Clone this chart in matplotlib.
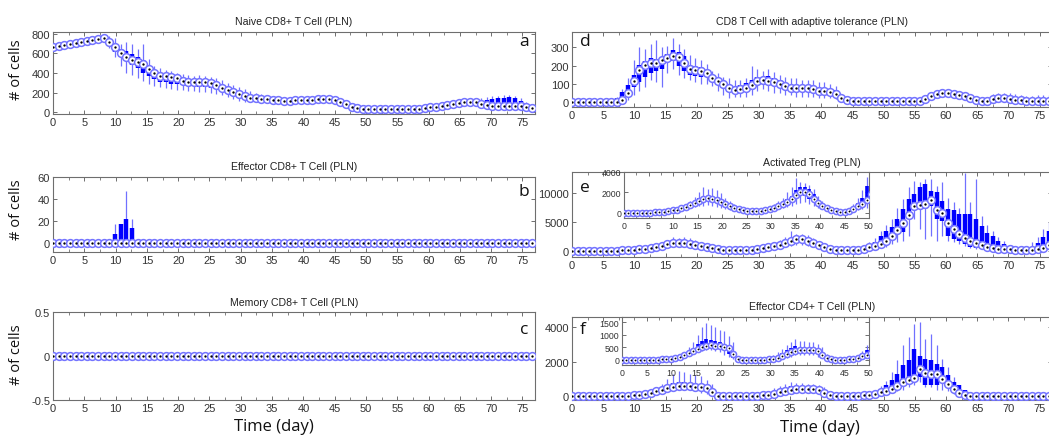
import numpy as np
import matplotlib
matplotlib.use("Agg")
import matplotlib.pyplot as plt
from matplotlib.ticker import MultipleLocator

# samples are every 0.9 day, 86 of them (0 .. 76.5)
sample_step = 0.9
days = np.arange(86) * sample_step

# ---------------- a: Naive CD8+ T cell ----------------
a_med = [670, 678, 688, 695, 705, 715, 725, 738, 748, 758,
         720, 670, 600, 565, 530, 510, 495, 440, 400, 366,
         366, 355, 345, 321, 311, 305, 305, 305, 300, 280,
         245, 225, 205, 185, 160, 148, 140, 135, 130, 125,
         120, 118, 118, 120, 122, 125, 128, 130, 135, 135,
         125, 105, 80, 55, 40, 32, 30, 30, 30, 30,
         30, 30, 30, 30, 32, 35, 40, 48, 55, 65,
         75, 85, 95, 100, 105, 100, 85, 72, 65, 65,
         65, 65, 62, 58, 50, 42]
a_idx1 = list(range(9, 40))
a_q1_1 = [745, 700, 620, 560, 520, 480, 450, 400, 370, 340, 310, 305, 290, 290, 280, 270,
          265, 260, 255, 250, 240, 220, 200, 180, 160, 140, 135, 130, 128, 125, 122]
a_q3_1 = [765, 745, 690, 650, 630, 590, 560, 530, 470, 425, 395, 385, 375, 365, 345, 330,
          320, 320, 315, 310, 295, 265, 245, 225, 200, 175, 160, 150, 142, 138, 132]
a_lo_1 = [720, 660, 560, 470, 400, 380, 350, 320, 290, 270, 260, 250, 240, 230, 225, 220,
          215, 210, 205, 200, 190, 170, 150, 130, 115, 105, 100, 100, 100, 100, 100]
a_hi_1 = [790, 780, 760, 700, 720, 700, 650, 700, 540, 470, 450, 430, 420, 400, 390, 380,
          370, 380, 370, 360, 350, 330, 300, 280, 260, 240, 220, 200, 180, 170, 160]
a_idx2 = list(range(75, 85))
a_q1_2 = [95, 80, 70, 65, 65, 65, 65, 62, 58, 50]
a_q3_2 = [110, 115, 120, 130, 140, 145, 150, 140, 110, 70]
a_lo_2 = [80, 65, 60, 55, 55, 55, 55, 50, 45, 40]
a_hi_2 = [125, 140, 150, 160, 165, 170, 170, 160, 140, 100]

# ---------------- b: Effector CD8+ T cell ----------------
b_med = [0] * 86
b_idx = [11, 12, 13, 14]
b_q1 = [0, 0, 0, 0]
b_q3 = [8, 17, 22, 14]
b_lo = [0, 0, 0, 0]
b_hi = [17, 17, 47, 22]

# ---------------- c: Memory CD8+ T cell ----------------
c_med = [0] * 86

# ---------------- d: CD8 T cell with adaptive tolerance ----------------
d_med = [0, 0, 0, 0, 0, 0, 0, 0, 2, 12,
         50, 115, 175, 203, 213, 213, 233, 243, 255, 246,
         215, 180, 178, 168, 158, 133, 115, 97, 79, 68,
         72, 78, 96, 116, 123, 116, 110, 100, 88, 76,
         76, 76, 76, 72, 62, 58, 54, 45, 22, 10,
         5, 5, 5, 5, 5, 5, 5, 5, 5, 5,
         5, 5, 8, 18, 32, 42, 48, 50, 45, 40,
         32, 22, 12, 6, 8, 15, 22, 22, 18, 12,
         10, 8, 6, 5, 5, 5]
d_idx1 = list(range(8, 50))
d_q1_1 = [0, 5, 30, 80, 110, 140, 160, 170, 180, 220, 225, 200, 170, 150, 145, 140, 135, 120,
          95, 75, 55, 50, 55, 60, 85, 100, 105, 100, 95, 85, 75, 65, 65, 60, 60, 55, 50, 45,
          40, 35, 15, 8]
d_q3_1 = [25, 55, 95, 150, 205, 225, 240, 235, 245, 265, 285, 275, 250, 200, 200, 190, 175, 145,
          125, 100, 90, 85, 95, 105, 120, 140, 140, 145, 130, 120, 100, 95, 90, 90, 85, 80, 75,
          75, 70, 65, 30, 15]
d_lo_1 = [0, 0, 10, 40, 60, 80, 120, 110, 80, 160, 180, 150, 130, 120, 110, 100, 100, 90, 60,
          40, 20, 30, 30, 30, 40, 60, 70, 60, 50, 50, 40, 40, 30, 30, 30, 30, 20, 20, 20, 15,
          5, 5]
d_hi_1 = [30, 70, 130, 230, 300, 290, 320, 340, 300, 310, 350, 320, 290, 260, 240, 230, 210,
          170, 160, 140, 130, 120, 120, 130, 200, 180, 170, 180, 165, 150, 140, 130, 130, 120,
          120, 120, 110, 110, 100, 90, 40, 25]
d_idx2 = list(range(74, 86))
d_q1_2 = [6, 10, 15, 15, 12, 8, 5, 5, 3, 2, 2, 2]
d_q3_2 = [12, 30, 35, 35, 35, 30, 25, 20, 20, 20, 25, 25]
d_lo_2 = [0, 0, 5, 5, 0, 0, 0, 0, 0, 0, 0, 0]
d_hi_2 = [20, 45, 50, 50, 50, 45, 40, 35, 35, 40, 40, 40]

# ---------------- e: Activated Treg ----------------
e_med = [0, 0, 0, 0, 0, 20, 30, 50, 80, 120,
         170, 240, 320, 430, 570, 750, 950, 1150, 1350, 1420,
         1400, 1250, 1050, 850, 650, 480, 350, 250, 180, 150,
         150, 180, 250, 350, 480, 650, 850, 1100, 1400, 1750,
         2050, 2050, 1800, 1400, 1000, 700, 450, 280, 170, 120,
         120, 200, 400, 650, 900, 1250, 1800, 2600, 3700, 4900,
         6300, 7700, 8000, 8100, 8800, 7000, 6600, 4900, 3800, 2900,
         2300, 1800, 1450, 1050, 800, 600, 450, 330, 300, 220,
         200, 200, 250, 340, 630, 1030]
e_idx1 = list(range(14, 50))
e_q1_1 = [550, 650, 850, 1000, 1100, 1150, 1100, 1000, 850, 700, 550, 420, 300, 220, 160, 130,
          130, 150, 200, 280, 400, 550, 700, 900, 1150, 1500, 1700, 1700, 1400, 1100, 800, 550,
          350, 220, 140, 100]
e_q3_1 = [650, 900, 1150, 1450, 1600, 1650, 1600, 1450, 1200, 1000, 800, 600, 420, 300, 210,
          180, 180, 220, 300, 430, 600, 800, 1050, 1350, 1700, 2200, 2500, 2500, 2300, 1800,
          1300, 850, 550, 330, 200, 150]
e_lo_1 = [450, 500, 600, 700, 700, 800, 700, 600, 500, 400, 300, 250, 200, 150, 100, 100, 100,
          100, 130, 180, 250, 350, 450, 600, 700, 900, 1000, 1100, 900, 700, 500, 350, 250, 150,
          100, 80]
e_hi_1 = [900, 1200, 1600, 2000, 2500, 2300, 2400, 2200, 1900, 1500, 1200, 900, 700, 500, 350,
          250, 250, 350, 500, 700, 900, 1200, 1500, 2000, 2500, 3400, 3000, 2900, 2700, 2300,
          1700, 1200, 800, 500, 300, 200]
e_idx2 = list(range(50, 86))
e_q1_2 = [100, 150, 280, 450, 650, 900, 1500, 2100, 2900, 3300, 5500, 7200, 7600, 7200, 7800,
          5500, 5200, 2600, 2100, 1800, 1200, 800, 630, 630, 460, 340, 250, 230, 200, 180, 180,
          180, 200, 300, 460, 800]
e_q3_2 = [160, 300, 600, 1000, 1500, 2600, 3500, 4100, 5500, 7200, 9000, 9800, 11000, 11500,
          10400, 10100, 8700, 7200, 7000, 6400, 6400, 6400, 5500, 4400, 3200, 2600, 1800, 1200,
          630, 300, 250, 250, 600, 1400, 2400, 3500]
e_lo_2 = [60, 100, 150, 250, 350, 500, 800, 1200, 1500, 1800, 2600, 5500, 3800, 2100, 2600,
          1800, 2600, 1800, 1500, 1200, 900, 600, 400, 400, 300, 250, 200, 150, 150, 120, 120,
          120, 150, 200, 300, 400]
e_hi_2 = [250, 450, 900, 1500, 2200, 3500, 4500, 5500, 7500, 9000, 11000, 12100, 11800, 12400,
          12400, 11200, 11800, 9200, 8500, 7500, 13500, 8500, 12400, 6000, 4500, 3500, 2500,
          1800, 1000, 500, 350, 400, 1500, 2500, 3800, 5000]

# ---------------- f: Effector CD4+ T cell ----------------
f_med = [0, 0, 0, 0, 0, 0, 0, 0, 10, 20,
         30, 50, 80, 130, 200, 280, 370, 450, 530, 570,
         580, 570, 550, 520, 480, 250, 20, 10, 10, 10,
         10, 10, 15, 20, 40, 80, 140, 220, 300, 370,
         400, 400, 400, 390, 340, 200, 60, 20, 10, 10,
         10, 20, 40, 80, 140, 210, 290, 425, 560, 810,
         945, 1060, 1550, 1355, 1300, 1300, 965, 676, 425, 200,
         40, 0, 0, 0, 0, 0, 0, 0, 0, 0,
         0, 0, 0, 0, 0, 0]
f_idx1 = list(range(14, 27))
f_q1_1 = [180, 250, 330, 420, 500, 540, 550, 530, 480, 400, 250, 80, 10]
f_q3_1 = [230, 330, 450, 620, 760, 830, 800, 760, 720, 650, 560, 370, 60]
f_lo_1 = [150, 200, 250, 300, 350, 400, 380, 350, 300, 200, 100, 30, 0]
f_hi_1 = [300, 500, 700, 1000, 1300, 1450, 1400, 1300, 1200, 1150, 950, 700, 150]
f_idx2 = list(range(32, 47))
f_q1_2 = [10, 15, 30, 60, 100, 160, 230, 300, 330, 340, 340, 320, 260, 130, 30]
f_q3_2 = [30, 40, 80, 150, 260, 380, 480, 560, 480, 460, 460, 440, 400, 280, 100]
f_lo_2 = [0, 0, 10, 20, 50, 80, 120, 180, 200, 200, 200, 180, 120, 60, 10]
f_hi_2 = [60, 100, 180, 300, 450, 600, 700, 830, 750, 750, 720, 700, 650, 500, 250]
f_idx3 = list(range(52, 71))
f_q1_3 = [30, 50, 80, 120, 135, 270, 425, 620, 715, 810, 1100, 620, 620, 620, 810, 520, 300, 100, 20]
f_q3_3 = [60, 120, 220, 380, 620, 910, 1290, 1780, 2070, 2740, 2300, 2160, 2070, 1870, 1680,
          1200, 810, 620, 330]
f_lo_3 = [10, 20, 40, 60, 80, 150, 270, 330, 520, 620, 810, 520, 520, 330, 330, 270, 135, 40, 0]
f_hi_3 = [100, 200, 350, 600, 900, 1400, 2070, 2940, 3420, 4200, 4290, 3330, 3620, 2940, 2160,
          1680, 1100, 620, 330]

BOX = "#0000ff"
WHISKER = "#7070ff"
CIRCLE = "#7474ff"
W, H = 1049, 439

plt.rcParams["font.family"] = ["Liberation Sans", "DejaVu Sans"]
LABEL_FONT = ["Open Sans", "DejaVu Sans"]


def axes_px(fig, left, top, right, bottom, **kw):
    return fig.add_axes([left / W, 1 - bottom / H, (right - left) / W, (bottom - top) / H], **kw)


def style(ax, xmax, major, minor, fs):
    for s in ax.spines.values():
        s.set_color("#6e6e6e")
        s.set_linewidth(0.8)
    ax.set_xlim(0, xmax)
    ax.xaxis.set_major_locator(MultipleLocator(major))
    ax.xaxis.set_minor_locator(MultipleLocator(minor))
    ax.tick_params(which="major", direction="in", length=3, width=0.7, color="#6e6e6e",
                   labelcolor="#333333", labelsize=fs, top=True, right=True, pad=2)
    ax.tick_params(which="minor", direction="in", length=2, width=0.6, color="#6e6e6e",
                   top=True)


def draw(ax, med, segments, box_lw=3.2, ms=5.6):
    for idx, q1, q3, lo, hi in segments:
        x = days[idx]
        ax.vlines(x, lo, hi, colors=WHISKER, lw=0.9, zorder=2)
        ax.vlines(x, q1, q3, colors=BOX, lw=box_lw, zorder=3)
    ax.plot(days, med, "o", ms=ms, mfc="white", mec=CIRCLE, mew=1.1, zorder=4)
    ax.plot(days, med, "o", ms=ms * 0.3, mfc="black", mec="black", mew=0, zorder=5)


fig = plt.figure(figsize=(W / 100, H / 100), dpi=100)

a_seg = [(a_idx1, a_q1_1, a_q3_1, a_lo_1, a_hi_1), (a_idx2, a_q1_2, a_q3_2, a_lo_2, a_hi_2)]
b_seg = [(b_idx, b_q1, b_q3, b_lo, b_hi)]
d_seg = [(d_idx1, d_q1_1, d_q3_1, d_lo_1, d_hi_1), (d_idx2, d_q1_2, d_q3_2, d_lo_2, d_hi_2)]
e_seg = [(e_idx1, e_q1_1, e_q3_1, e_lo_1, e_hi_1), (e_idx2, e_q1_2, e_q3_2, e_lo_2, e_hi_2)]
f_seg = [(f_idx1, f_q1_1, f_q3_1, f_lo_1, f_hi_1), (f_idx2, f_q1_2, f_q3_2, f_lo_2, f_hi_2),
         (f_idx3, f_q1_3, f_q3_3, f_lo_3, f_hi_3)]

panels = [
    # med, segments, box (l, t, r, b), ylim, yticks, title, title pos, letter, letter pos
    (a_med, a_seg, (53, 33, 535, 115), (-20, 820), [0, 200, 400, 600, 800],
     "Naive CD8+ T Cell (PLN)", (294, 22), "a", (524, 42)),
    (b_med, b_seg, (53, 178, 535, 253), (-8, 60), [0, 20, 40, 60],
     "Effector CD8+ T Cell (PLN)", (294, 167), "b", (524, 192)),
    (c_med, [], (53, 313, 535, 401), (-0.5, 0.5), [-0.5, 0, 0.5],
     "Memory CD8+ T Cell (PLN)", (294, 303), "c", (524, 330)),
    (d_med, d_seg, (572, 33, 1052, 108), (-27, 384), [0, 100, 200, 300],
     "CD8 T Cell with adaptive tolerance (PLN)", (812, 22), "d", (585, 42)),
    (e_med, e_seg, (572, 173, 1052, 258), (-1000, 13600), [0, 5000, 10000],
     "Activated Treg (PLN)", (812, 163), "e", (585, 188)),
    (f_med, f_seg, (572, 318, 1052, 401), (-230, 4580), [0, 2000, 4000],
     "Effector CD4+ T Cell (PLN)", (812, 307), "f", (583, 330)),
]

for med, seg, box, ylim, yticks, title, tpos, letter, lpos in panels:
    ax = axes_px(fig, *box)
    draw(ax, med, seg)
    style(ax, 77, 5, 2.5, 8)
    ax.set_ylim(*ylim)
    ax.set_yticks(yticks)
    if letter == "c":
        ax.set_yticklabels(["-0.5", "0", "0.5"])
    fig.text(tpos[0] / W, 1 - tpos[1] / H, title, ha="center", va="center",
             fontsize=7.6, color="#222222")
    fig.text(lpos[0] / W, 1 - lpos[1] / H, letter, ha="center", va="center",
             fontsize=12.5, family=LABEL_FONT, color="#111111", zorder=10)

# insets (first 50 days)
insets = [
    (e_med, e_seg, (624, 173, 869, 219), (-500, 4000), [0, 2000, 4000]),
    (f_med, f_seg, (622, 318, 869, 366), (-200, 1700), [0, 500, 1000, 1500]),
]
for med, seg, box, ylim, yticks in insets:
    ax = axes_px(fig, *box, zorder=6)
    ax.set_facecolor("white")
    draw(ax, med, seg, box_lw=2.6, ms=4.4)
    style(ax, 50, 5, 2.5, 6.3)
    ax.set_ylim(*ylim)
    ax.set_yticks(yticks)

for y in (70, 210, 355):
    fig.text(16 / W, 1 - y / H, "# of cells", rotation=90, ha="center", va="center",
             fontsize=10.5, family=LABEL_FONT, color="#111111")
fig.text(274 / W, 1 - 427 / H, "Time (day)", ha="center", va="center",
         fontsize=12, family=LABEL_FONT, color="#111111")
fig.text(820 / W, 1 - 428 / H, "Time (day)", ha="center", va="center",
         fontsize=12, family=LABEL_FONT, color="#111111")

fig.savefig("out.png", dpi=100)
